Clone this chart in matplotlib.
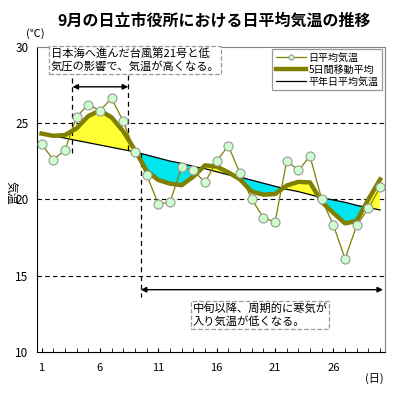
import numpy as np
import matplotlib.pyplot as plt

plt.rcParams['font.family'] = ['Noto Sans CJK JP', 'DejaVu Sans']

days = np.arange(1, 31)
temp = [23.6, 22.6, 23.2, 25.4, 26.2, 25.8, 26.6, 25.1, 23.1, 21.6,
        19.7, 19.8, 22.1, 21.9, 21.1, 22.5, 23.5, 21.7, 20.0, 18.8,
        18.5, 22.5, 21.9, 22.8, 20.0, 18.3, 16.1, 18.3, 19.4, 20.8]
# 5日間移動平均 (ends use data outside September)
ma5 = [24.3, 24.15, 24.2, 24.64, 25.44, 25.82, 25.36, 24.44, 23.22, 21.86,
       21.26, 21.02, 20.92, 21.48, 22.22, 22.14, 21.76, 21.3, 20.5, 20.3,
       20.34, 20.9, 21.14, 21.1, 19.82, 19.1, 18.42, 18.58, 20.0, 21.3]
normal = [24.3, 24.15, 24.0, 23.85, 23.7, 23.55, 23.4, 23.25, 23.1, 22.9,
          22.7, 22.5, 22.35, 22.15, 22.0, 21.8, 21.6, 21.45, 21.25, 21.05,
          20.85, 20.65, 20.5, 20.3, 20.1, 19.95, 19.8, 19.6, 19.45, 19.3]
xticks = [1, 6, 11, 16, 21, 26]
yticks = [10, 15, 20, 25, 30]

ma5 = np.array(ma5)
normal = np.array(normal)

fig = plt.figure(figsize=(4, 4), dpi=100)
ax = fig.add_axes([0.0925, 0.12, 0.87, 0.76375])

ax.fill_between(days, ma5, normal, where=ma5 >= normal, interpolate=True,
                color='#FFFF33', lw=0, zorder=1)
ax.fill_between(days, ma5, normal, where=ma5 <= normal, interpolate=True,
                color='#00E5EE', lw=0, zorder=1)

for v in [15, 20, 25]:
    ax.axhline(v, color='black', lw=0.8, ls=(0, (4, 3)), zorder=0.5)

ax.plot(days, normal, color='black', lw=0.9, zorder=2, label='平年日平均気温')
ax.plot(days, ma5, color='#808000', lw=3.2, zorder=3, label='5日間移動平均')
ax.plot(days, temp, color='#808000', lw=0.9, marker='o', ms=6.5,
        mfc='#CCFFCC', mec='#999999', mew=0.8, zorder=4, label='日平均気温')

ax.set_xlim(0.61, 30.42)
ax.set_ylim(10, 30)
ax.set_xticks(days, minor=True)
ax.set_xticks(xticks)
ax.set_yticks(yticks)
ax.tick_params(axis='x', which='both', direction='in', length=3, pad=8,
               labelsize=8)
ax.tick_params(axis='y', length=0, pad=6, labelsize=8.5)
ax.spines['top'].set_color('#808080')
ax.spines['right'].set_color('#808080')

# 台風の注記
ax.plot([3.65, 3.65], [23.0, 28.13], color='black', lw=0.9, ls=(0, (4, 3)))
ax.plot([8.43, 8.43], [23.2, 28.13], color='black', lw=0.9, ls=(0, (4, 3)))
ax.annotate('', xy=(3.65, 27.36), xytext=(8.43, 27.36),
            arrowprops=dict(arrowstyle='<|-|>', color='black', lw=1,
                            mutation_scale=8, shrinkA=0, shrinkB=0))
ax.text(1.8, 29.9, '日本海へ進んだ台風第21号と低\n気圧の影響で、気温が高くなる。',
        fontsize=8.1, va='top', ha='left', linespacing=1.25, zorder=6,
        bbox=dict(boxstyle='square,pad=0.15', fc='white', ec='#999999',
                  ls='--', lw=0.9))

# 寒気の注記
ax.plot([9.5, 9.5], [23.0, 13.57], color='black', lw=0.9, ls=(0, (4, 3)))
ax.annotate('', xy=(9.5, 14.08), xytext=(30.25, 14.08),
            arrowprops=dict(arrowstyle='<|-|>', color='black', lw=1,
                            mutation_scale=8, shrinkA=0, shrinkB=0))
ax.text(13.95, 13.2, '中旬以降、周期的に寒気が\n入り気温が低くなる。',
        fontsize=8.1, va='top', ha='left', linespacing=1.25, zorder=6,
        bbox=dict(boxstyle='square,pad=0.15', fc='white', ec='#999999',
                  ls='--', lw=0.9))

handles, labels = ax.get_legend_handles_labels()
order = [2, 1, 0]
leg = ax.legend([handles[i] for i in order], [labels[i] for i in order],
                loc='upper right', bbox_to_anchor=(0.992, 0.992),
                fontsize=7.2, frameon=True, fancybox=False, edgecolor='#808080',
                handlelength=3.0, handletextpad=0.3, markerscale=0.55,
                borderaxespad=0, labelspacing=0.2, borderpad=0.35)
leg.get_frame().set_linewidth(0.9)
leg.set_zorder(7)

fig.text(0.536, 0.95, '9月の日立市役所における日平均気温の推移',
         ha='center', va='center', fontsize=11.5, fontweight='bold')
fig.text(0.0875, 0.917, '(℃)', ha='center', va='center', fontsize=8)
fig.text(0.935, 0.0525, '(日)', ha='center', va='center', fontsize=8)
fig.text(0.025, 0.5175, '気温', ha='center', va='center', fontsize=8.5,
         rotation=-90)

fig.savefig('out.png', dpi=100)
